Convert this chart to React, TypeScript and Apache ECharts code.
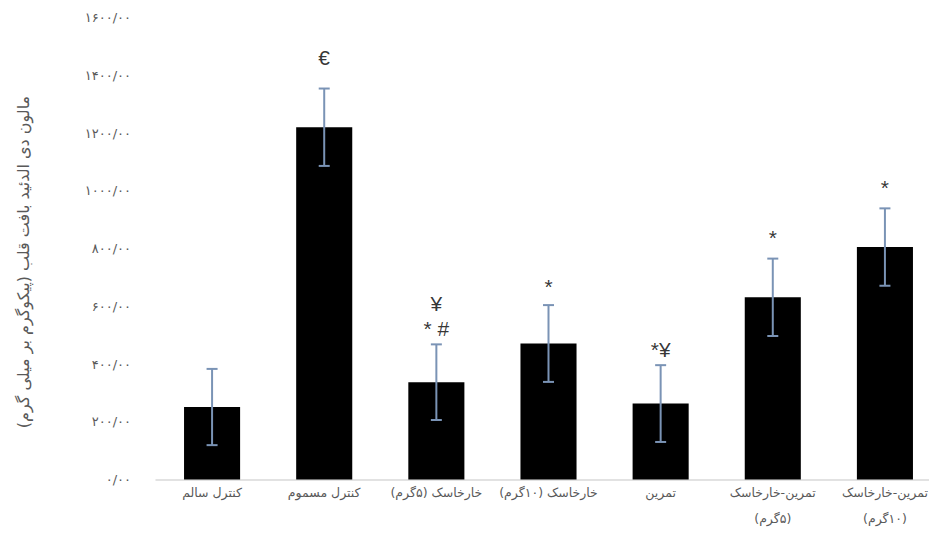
import React, { useEffect, useRef } from "react";
import * as echarts from "echarts";

const categories = [
  "کنترل سالم",
  "کنترل مسموم",
  "خارخاسک (۵گرم)",
  "خارخاسک (۱۰گرم)",
  "تمرین",
  "تمرین-خارخاسک\n(۵گرم)",
  "تمرین-خارخاسک\n(۱۰گرم)",
];
const meanValues = [251, 1220, 337, 471, 263, 631, 805];
const errorValues = [132, 134, 131, 133, 133, 134, 134];
const annotations = ["", "€", "¥\n* #", "*", "*¥", "*", "*"];
const yTickLabels = ["۰/۰۰", "۲۰۰/۰۰", "۴۰۰/۰۰", "۶۰۰/۰۰", "۸۰۰/۰۰", "۱۰۰۰/۰۰", "۱۲۰۰/۰۰", "۱۴۰۰/۰۰", "۱۶۰۰/۰۰"];
const yAxisTitle = "مالون دی الدئید بافت قلب (پیکوگرم بر میلی گرم)";

const FA_FONT = "DejaVu Sans";
const RLM = "\u200F";
const rtl = (s: string) => s.split("\n").map((l) => RLM + l + RLM).join("\n");

export default function App() {
  const ref = useRef<HTMLDivElement>(null);
  useEffect(() => {
    if (!ref.current) return;
    const chart = echarts.init(ref.current, null, { renderer: "svg" });
    // label distance (px) above each error bar's top, styling only
    const annDistance = [10, 18, 3, 6, 3, 8, 8];
    const errData = meanValues.map((v, i) => [i, v - errorValues[i], v + errorValues[i]]);
    const annData = meanValues.map((v, i) => ({
      value: [i, v + errorValues[i]],
      ann: annotations[i],
      label: { distance: annDistance[i] },
    }));
    chart.setOption({
      animation: false,
      backgroundColor: "#ffffff",
      grid: { left: 156, right: 0, top: 17.5, bottom: 66.5, containLabel: false },
      graphic: [
        {
          type: "text",
          x: 23,
          y: 262,
          rotation: Math.PI / 2,
          style: {
            text: rtl(yAxisTitle),
            fill: "#595959",
            font: `16px "${FA_FONT}"`,
            align: "center",
            verticalAlign: "middle",
          },
        },
      ],
      xAxis: {
        type: "category",
        data: categories,
        axisLine: { lineStyle: { color: "#d9d9d9", width: 1.5 } },
        axisTick: { show: false },
        axisLabel: {
          color: "#595959",
          fontFamily: FA_FONT,
          fontSize: 12.5,
          margin: 0,
          lineHeight: 26,
          interval: 0,
          formatter: (v: string) => rtl(v),
        },
      },
      yAxis: {
        type: "value",
        min: 0,
        max: 1600,
        interval: 200,
        splitLine: { show: false },
        axisLine: { show: false },
        axisTick: { show: false },
        axisLabel: {
          color: "#595959",
          fontFamily: FA_FONT,
          fontSize: 13,
          margin: 25,
          formatter: (v: number) => yTickLabels[Math.round(v / 200)] ?? "",
        },
      },
      series: [
        {
          type: "bar",
          data: meanValues,
          barWidth: "50%",
          itemStyle: { color: "#000000" },
        },
        {
          type: "custom",
          data: errData,
          z: 5,
          renderItem: (params: any, api: any) => {
            const x = api.value(0);
            const lo = api.coord([x, api.value(1)]);
            const hi = api.coord([x, api.value(2)]);
            const hw = 5.5;
            const style = { stroke: "#7a93b5", lineWidth: 2 };
            return {
              type: "group",
              children: [
                { type: "line", shape: { x1: lo[0], y1: lo[1], x2: hi[0], y2: hi[1] }, style },
                { type: "line", shape: { x1: hi[0] - hw, y1: hi[1], x2: hi[0] + hw, y2: hi[1] }, style },
                { type: "line", shape: { x1: lo[0] - hw, y1: lo[1], x2: lo[0] + hw, y2: lo[1] }, style },
              ],
            };
          },
        },
        {
          type: "scatter",
          data: annData,
          symbolSize: 1,
          itemStyle: { color: "rgba(0,0,0,0)" },
          silent: true,
          z: 10,
          label: {
            show: true,
            position: "top",
            color: "#000000",
            fontFamily: "Liberation Sans",
            fontSize: 21,
            lineHeight: 25,
            align: "center",
            formatter: (p: any) => p.data.ann,
          },
        },
      ],
    });
    return () => chart.dispose();
  }, []);
  return (
    <div
      ref={ref}
      style={{ position: "fixed", left: 0, top: 0, width: 941, height: 546, background: "#fff" }}
    />
  );
}
